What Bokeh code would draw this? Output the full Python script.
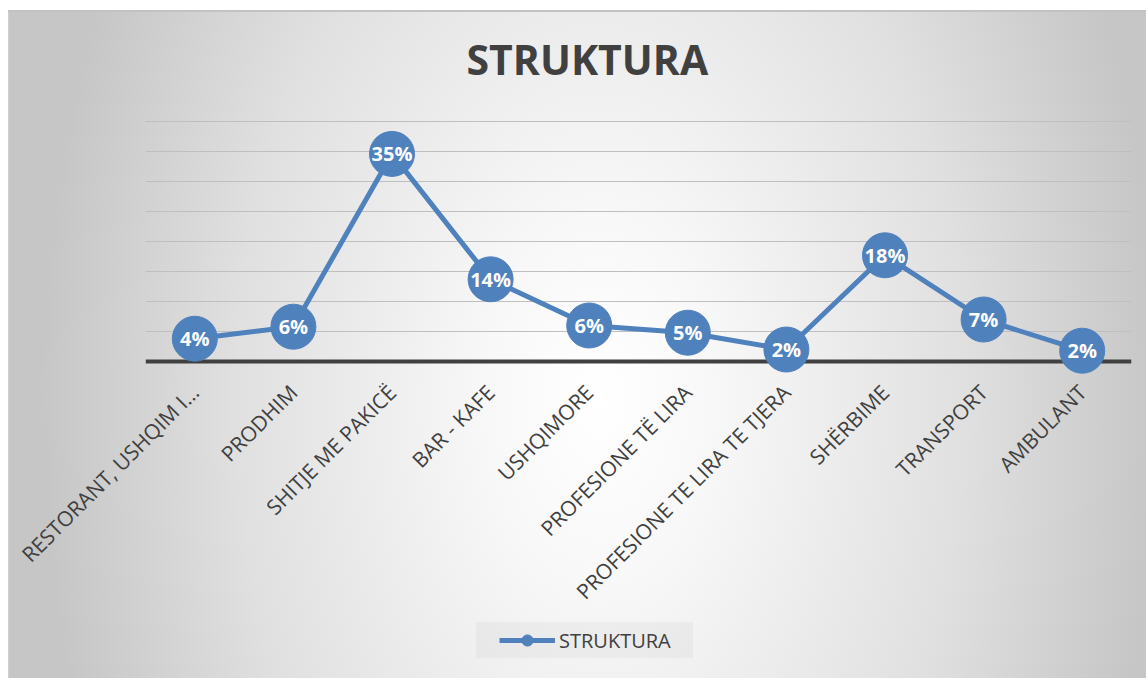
from bokeh.plotting import figure
from bokeh.layouts import column
from bokeh.models import (ColumnDataSource, FixedTicker, Span, Legend, LegendItem,
                          FactorRange, Range1d)
from bokeh.core.properties import value
from bokeh.embed import file_html
from bokeh.resources import INLINE

# ---- data ----
categories = [
    "RESTORANT, USHQIM I…",
    "PRODHIM",
    "SHITJE ME PAKICË",
    "BAR - KAFE",
    "USHQIMORE",
    "PROFESIONE TË LIRA",
    "PROFESIONE TE LIRA TE TJERA",
    "SHËRBIME",
    "TRANSPORT",
    "AMBULANT",
]
shares = [3.8, 5.8, 34.6, 13.7, 6.0, 4.8, 2.0, 17.7, 7.0, 1.8]
series_name = "STRUKTURA"
chart_title = "STRUKTURA"
grid_ticks = [5, 10, 15, 20, 25, 30, 35, 40]

BLUE = "#4F81BD"
DARK = "#404040"
FONT = "Open Sans"

point_labels = [f"{v:.0f}%" for v in shares]
src = ColumnDataSource(dict(cat=categories, share=shares, label=point_labels))

p = figure(
    x_range=FactorRange(factors=categories, range_padding=0),
    y_range=Range1d(-3, 45),
    frame_width=986, frame_height=288,
    min_border_left=145, min_border_right=15,
    min_border_top=91, min_border_bottom=243,
    output_backend="svg", toolbar_location=None,
)
p.border_fill_alpha = 0
p.background_fill_alpha = 0
p.outline_line_color = None

# title
p.title.text = chart_title
p.title.align = "left"
p.title.offset = 321
p.title.text_font = FONT
p.title.text_font_size = "41px"
p.title.text_font_style = "bold"
p.title.text_color = DARK

# axes
p.yaxis.visible = False
p.xgrid.visible = False
p.ygrid.ticker = FixedTicker(ticks=grid_ticks)
p.ygrid.grid_line_color = "#BFBFBF"
p.ygrid.grid_line_width = 1.2

xa = p.xaxis[0]
xa.axis_line_color = None
xa.major_tick_line_color = None
xa.minor_tick_line_color = None
xa.major_label_orientation = 0.785398
xa.major_label_text_font = FONT
xa.major_label_text_font_size = "21px"
xa.major_label_text_color = DARK
xa.major_label_standoff = 3

baseline = Span(location=0, dimension="width", line_color=DARK, line_width=4, level="underlay")
p.add_layout(baseline)

p.line("cat", "share", source=src, line_width=5, line_color=BLUE)
p.scatter("cat", "share", source=src, size=45, fill_color=BLUE, line_color=BLUE)
p.text("cat", "share", text="label", source=src, text_color="white",
       text_font=value(FONT), text_font_style="bold", text_font_size="20px",
       text_align="center", text_baseline="middle")

# ---- legend strip (separate small figure, same series, data kept out of view) ----
pl = figure(
    x_range=FactorRange(factors=categories, range_padding=0),
    y_range=Range1d(1000, 1001),
    width=1146, height=56,
    min_border=0, x_axis_location=None, y_axis_location=None,
    output_backend="svg", toolbar_location=None,
)
pl.grid.visible = False
pl.border_fill_alpha = 0
pl.background_fill_alpha = 0
pl.outline_line_color = None

leg_line = pl.line("cat", "share", source=src, line_width=5, line_color=BLUE)
leg_pts = pl.scatter("cat", "share", source=src, size=45, fill_color=BLUE, line_color=BLUE)

legend = Legend(
    items=[LegendItem(label=series_name, renderers=[leg_line, leg_pts])],
    location=(354, 24), orientation="horizontal",
    label_text_font=FONT, label_text_font_size="20px", label_text_color=DARK,
    label_standoff=4,
    background_fill_alpha=0, border_line_color=None,
    glyph_width=56, glyph_height=28,
    padding=4, margin=0,
)
pl.add_layout(legend)

layout = column(p, pl, spacing=0, styles={
    "background": (
        "linear-gradient(#c2c2c2,#c2c2c2) 8px 10px / 1138px 2px no-repeat, "
        "linear-gradient(#d0d0d0,#d0d0d0) 8px 10px / 1px 668px no-repeat, "
        "linear-gradient(rgba(0,0,0,0.035),rgba(0,0,0,0.035)) 476px 622px / 217px 36px no-repeat, "
        "radial-gradient(ellipse 560px 900px at 592px 390px, #ffffff 0%, #f8f8f8 20%, "
        "#e0e0e0 65%, #c6c6c6 100%) 8px 10px / 1138px 668px no-repeat, #ffffff"
    ),
})

open("out.html", "w").write(file_html(layout, INLINE))
